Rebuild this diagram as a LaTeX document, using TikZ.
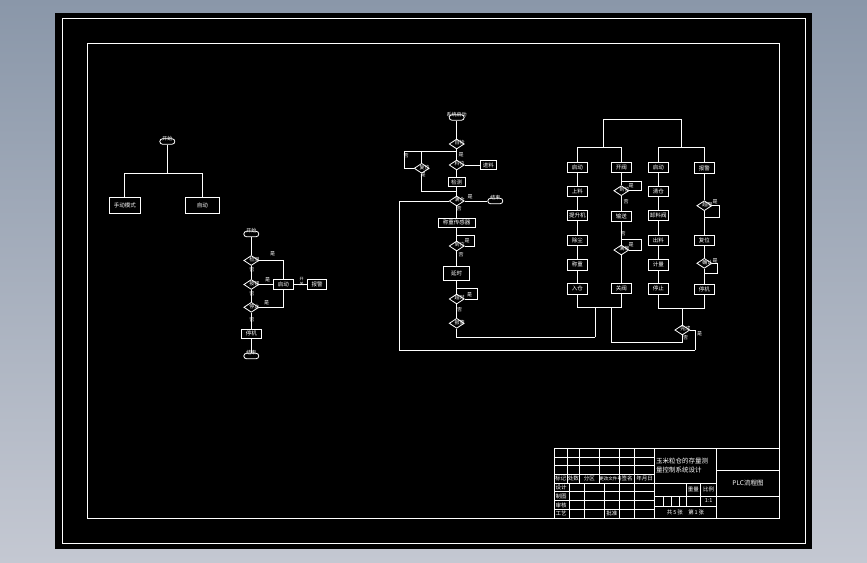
\documentclass[tikz,border=0pt]{standalone}
\usepackage{fontspec}
\newfontfamily\cjk{Noto Sans CJK SC}
\usetikzlibrary{positioning, shapes.geometric, shapes.misc, calc}
\definecolor{cadtopo}{RGB}{138, 151, 169}
\definecolor{cadbase}{RGB}{196, 200, 210}

\begin{document}
\begin{tikzpicture}[
    x=1pt, y=-1pt,
    every node/.style={text=white},
    font=\cjk\fontsize{5.5}{6}\selectfont,
    fio/.style={draw=white, line width=0.8pt},
    box/.style={draw=white, line width=0.8pt, minimum width=20.4pt, minimum height=10.4pt, inner sep=0pt},
    dec/.style={draw=white, line width=0.8pt, diamond, minimum width=15pt, minimum height=10pt, inner sep=0pt},
    term/.style={draw=white, line width=0.8pt, rounded rectangle, minimum width=15pt, minimum height=5.5pt, inner sep=0pt},
    lbl/.style={font=\cjk\fontsize{5}{5.5}\selectfont, inner sep=0.3pt},
    dlbl/.style={lbl, xshift=3pt, yshift=1pt},
    tb/.style={font=\cjk\fontsize{5.5}{6}\selectfont, inner sep=0pt},
]

% ── Fundo e folha ──────────────────────────
\shade[top color=cadtopo, bottom color=cadbase] (0,0) rectangle (867,562);
\fill[black] (55,13) rectangle (812,549);
\draw[fio] (62.3,18.7) rectangle (805,543.3);
\draw[fio] (87.5,43.3) rectangle (779.5,518.3);

% ── Fluxo 1: modo ──────────────────────────
\node[term, label={[lbl, yshift=-3pt]above:开始}] (ini1) at (167.3,141.5) {};
\coordinate (ram1) at (167.3,173.3);
\node[box, minimum width=31pt, minimum height=16pt] (manual) at (124.8,205.5) {手动模式};
\node[box, minimum width=34pt, minimum height=16pt] (auto) at (202.3,205.5) {自动};
\draw[fio] (ini1) -- (ram1);
\draw[fio] (ram1) -| (manual);
\draw[fio] (ram1) -| (auto);

% ── Fluxo 2: manual ────────────────────────
\node[term, label={[lbl, yshift=-3pt]above:开始}] (ini2) at (251.3,234) {};
\node[dec, label={[dlbl]center:检测}] (d21) at (251.3,260.5) {};
\node[dec, label={[dlbl]center:按钮}] (d22) at (251.3,284.5) {};
\node[dec, label={[dlbl]center:停止}] (d23) at (251.3,307.3) {};
\node[box, minimum height=10.4pt] (b21) at (283.3,284.5) {启动};
\node[box, minimum width=19.4pt, minimum height=10.7pt] (b22) at (317,284.5) {报警};
\node[box, minimum width=19.4pt, minimum height=9.7pt] (b23) at (251.3,333.8) {停机};
\node[term, label={[lbl, yshift=-3pt]above:结束}] (fim2) at (251.3,356) {};
\draw[fio] (ini2) -- (d21) -- (d22) -- (d23) -- (b23) -- (fim2);
\draw[fio] (d21) -| (b21);
\draw[fio] (d22) -- (b21);
\draw[fio] (d23) -| (b21);
\draw[fio] (b21) -- (b22);
\node[lbl] (s21) at (272.7,253.3) {是};
\node[lbl] (n21) at (251.8,270) {否};
\node[lbl] (s22) at (267.7,280) {是};
\node[lbl] (n22) at (251.8,294) {否};
\node[lbl] (s23) at (266.7,302.7) {是};
\node[lbl] (n23) at (251.8,319.3) {否};
\node[lbl, align=center, font=\cjk\fontsize{4}{4.5}\selectfont] (sig2) at (301.7,281.5) {开\\关};

% ── Fluxo 3: automático ────────────────────
\node[term, label={[lbl, yshift=-3pt]above:系统启动}] (ini3) at (456.7,117.5) {};
\node[dec, label={[dlbl]center:自检}] (dA) at (456.7,144) {};
\coordinate (rA) at (456.7,151.7);
\coordinate (rB) at (404,151.7);
\coordinate (rB2) at (404,168.3);
\coordinate (rB3) at (421.7,151.7);
\node[dec, label={[dlbl]center:复位}] (dB) at (421.7,168.3) {};
\node[dec, label={[dlbl]center:料位}] (dC) at (456.7,165) {};
\node[box, minimum width=16.7pt, minimum height=8.4pt] (bC) at (488.3,165) {进料};
\node[box, minimum width=16.7pt, minimum height=9.4pt] (bD) at (456.7,182) {检测};
\coordinate (rD) at (456.7,191);
\node[dec, label={[dlbl]center:满仓}] (dE) at (456.7,201) {};
\node[term, label={[lbl, yshift=-3pt]above:结束}] (fim3) at (495.3,201) {};
\coordinate (rE) at (399.3,201);
\coordinate (rE2) at (399.3,350);
\node[box, minimum width=37.4pt, minimum height=9pt] (bF) at (456.7,222.8) {称重传感器};
\node[dec, label={[dlbl]center:到位}] (dF) at (456.7,246) {};
\coordinate (lF) at (474.7,235);
\coordinate (lF2) at (456.7,235);
\node[box, minimum width=26pt, minimum height=14pt] (bG) at (456.7,273.7) {延时};
\node[dec, label={[dlbl]center:超时}] (dH) at (456.7,299) {};
\coordinate (lH) at (477.3,288.3);
\coordinate (lH2) at (456.7,288.3);
\node[dec, label={[dlbl]center:报警}] (dI) at (456.7,323.3) {};
\coordinate (rI) at (456.7,337.3);
\coordinate (rI2) at (595,337.3);

\draw[fio] (ini3) -- (dA) -- (dC) -- (bD) -- (dE) -- (bF) -- (dF) -- (bG) -- (dH) -- (dI) -- (rI) -- (rI2);
\draw[fio] (rA) -- (rB) -- (rB2) -- (dB);
\draw[fio] (rB3) -- (dB);
\draw[fio] (dB) |- (rD);
\draw[fio] (dC) -- (bC);
\draw[fio] (dE) -- (fim3);
\draw[fio] (dF) -| (lF) -- (lF2);
\draw[fio] (dH) -| (lH) -- (lH2);
\node[lbl] (sA) at (461,155) {是};
\node[lbl] (nA) at (406,156) {否};
\node[lbl] (sB) at (423,175) {是};
\node[lbl] (sE) at (470,196.5) {是};
\node[lbl] (nE) at (459,209) {否};
\node[lbl] (sF) at (467,241) {是};
\node[lbl] (nF) at (461,255) {否};
\node[lbl] (sH) at (469.5,294.3) {是};
\node[lbl] (nH) at (459.5,309.5) {否};

% ── Colunas de controle ────────────────────
\coordinate (t1) at (603.3,119.3);
\coordinate (t2) at (681.7,119.3);
\coordinate (m1) at (603.3,147.3);
\coordinate (m2) at (681.7,147.3);
\draw[fio] (m1) -- (t1) -- (t2) -- (m2);

% coluna 1 e 3
\foreach \i/\yy/\txt in {1/167.5/启动, 2/191.5/上料, 3/215.5/提升机, 4/240.3/除尘, 5/264.7/称重, 6/288.7/入仓}
    \node[box] (a\i) at (577.3,\yy) {\txt};
\foreach \i/\yy/\txt in {1/167.5/启动, 2/191.5/清仓, 3/215.5/卸料阀, 4/240.3/出料, 5/264.7/计量, 6/288.7/停止}
    \node[box] (c\i) at (658.3,\yy) {\txt};

% coluna 2
\node[box] (b1) at (621.3,167.5) {开阀};
\node[dec, label={[dlbl]center:到位}] (bq1) at (621.3,190.7) {};
\node[box] (b2) at (621.3,216.2) {输送};
\node[dec, label={[dlbl]center:满载}] (bq2) at (621.3,250) {};
\node[box] (b3) at (621.3,288.5) {关阀};
\coordinate (lb1) at (641.7,181);
\coordinate (lb1e) at (621.3,181);
\coordinate (lb2) at (641.7,239);
\coordinate (lb2e) at (621.3,239);

% coluna 4
\node[box] (d1) at (704.3,168) {报警};
\node[dec, label={[dlbl]center:超限}] (dq1) at (704.3,205.7) {};
\node[box] (d2) at (704.3,240.3) {复位};
\node[dec, label={[dlbl]center:确认}] (dq2) at (704.3,263.3) {};
\node[box] (d3) at (704.3,289.3) {停机};
\coordinate (ld1) at (719.7,217.3);
\coordinate (ld1e) at (704.3,217.3);
\coordinate (ld2) at (717.7,273.3);
\coordinate (ld2e) at (704.3,273.3);

\draw[fio] (m1) -| (a1);
\draw[fio] (m1) -| (b1);
\draw[fio] (m2) -| (c1);
\draw[fio] (m2) -| (d1);
\draw[fio] (a1) -- (a2) -- (a3) -- (a4) -- (a5) -- (a6);
\draw[fio] (c1) -- (c2) -- (c3) -- (c4) -- (c5) -- (c6);
\draw[fio] (b1) -- (bq1) -- (b2) -- (bq2) -- (b3);
\draw[fio] (d1) -- (dq1) -- (d2) -- (dq2) -- (d3);
\draw[fio] (bq1) -| (lb1) -- (lb1e);
\draw[fio] (bq2) -| (lb2) -- (lb2e);
\draw[fio] (dq1) -| (ld1) -- (ld1e);
\draw[fio] (dq2) -| (ld2) -- (ld2e);
\node[lbl] (sb1) at (631,186) {是};
\node[lbl] (nb1) at (626,202) {否};
\node[lbl] (nb2) at (623,233.3) {否};
\node[lbl] (sb2) at (631,244.5) {是};
\node[lbl] (sd1) at (715,202) {是};
\node[lbl] (sd2) at (715,261) {是};

% junções inferiores
\coordinate (jA) at (577.3,307.3);
\coordinate (jB) at (621.3,307.3);
\coordinate (jL) at (595,307.3);
\coordinate (jM) at (611,307.3);
\coordinate (jM2) at (611,342.3);
\coordinate (jC) at (658.3,308.3);
\coordinate (jD) at (704.3,308.3);
\coordinate (jN) at (682.3,308.3);
\coordinate (rK) at (682.3,342.3);
\coordinate (rJ2) at (695,350);
\node[dec, label={[dlbl]center:完成}] (dJ) at (682.3,330) {};
\draw[fio] (a6) -- (jA) -- (jB) -- (b3);
\draw[fio] (c6) -- (jC) -- (jD) -- (d3);
\draw[fio] (rI2) -- (jL);
\draw[fio] (jN) -- (dJ);
\draw[fio] (jM) -- (jM2) -- (rK) -- (dJ);
\draw[fio] (dE) -- (rE) -- (rE2) -- (rJ2);
\draw[fio] (dJ) -| (rJ2);
\node[lbl] (sJ) at (699.5,333.5) {是};
\node[lbl] (nJ) at (685.5,338) {否};

% ── Legenda (carimbo) ──────────────────────
\draw[fio] (554,448.7) rectangle (779.5,518.3);
\foreach \yy in {457.3,465.7,474.3,483.3,491.7,500.7,509}
    \draw[fio] (554,\yy) -- (654.3,\yy);
\foreach \xx in {567.3,579.3,599.3,619.3,634.7}
    \draw[fio] (\xx,448.7) -- (\xx,483.3);
\foreach \xx in {569.3,584.3,604.3,619.3,634.7}
    \draw[fio] (\xx,483.3) -- (\xx,518.3);
\draw[fio] (654.3,448.7) -- (654.3,518.3);
\draw[fio] (716.7,448.7) -- (716.7,518.3);
\foreach \yy in {483.3,496,506}
    \draw[fio] (654.3,\yy) -- (716.7,\yy);
\foreach \xx in {686,700.7}
    \draw[fio] (\xx,483.3) -- (\xx,506);
\foreach \xx in {663,671,679}
    \draw[fio] (\xx,496) -- (\xx,506);
\foreach \yy in {470.7,496}
    \draw[fio] (716.7,\yy) -- (779.5,\yy);

\node[tb] (hd1) at (560.6,478.8) {标记};
\node[tb] (hd2) at (573.3,478.8) {处数};
\node[tb] (hd3) at (589.3,478.8) {分区};
\node[tb, font=\cjk\fontsize{4.5}{5}\selectfont] (hd4) at (610.5,478.8) {更改文件号};
\node[tb] (hd5) at (627,478.8) {签名};
\node[tb] (hd6) at (644.5,478.8) {年月日};
\node[tb] (rw1) at (561,487.5) {设计};
\node[tb] (rw2) at (561,496.2) {制图};
\node[tb] (rw3) at (561,504.9) {审核};
\node[tb] (rw4) at (561,513.7) {工艺};
\node[tb] (rw5) at (611.8,513.7) {批准};
\node[tb, font=\cjk\fontsize{6.5}{9}\selectfont, align=left, anchor=west] (titulo) at (656,465.5) {玉米粒仓的存量测\\量控制系统设计};
\node[tb] (peso) at (693.3,489.7) {重量};
\node[tb] (escala) at (708.7,489.7) {比例};
\node[tb] (escv) at (708.7,501) {1:1};
\node[tb] (folhas) at (685.5,512.2) {共\,5\,张\quad 第\,1\,张};
\node[tb, font=\cjk\fontsize{6.5}{7}\selectfont] (desenho) at (748,483.3) {PLC流程图};

\end{tikzpicture}
\end{document}
